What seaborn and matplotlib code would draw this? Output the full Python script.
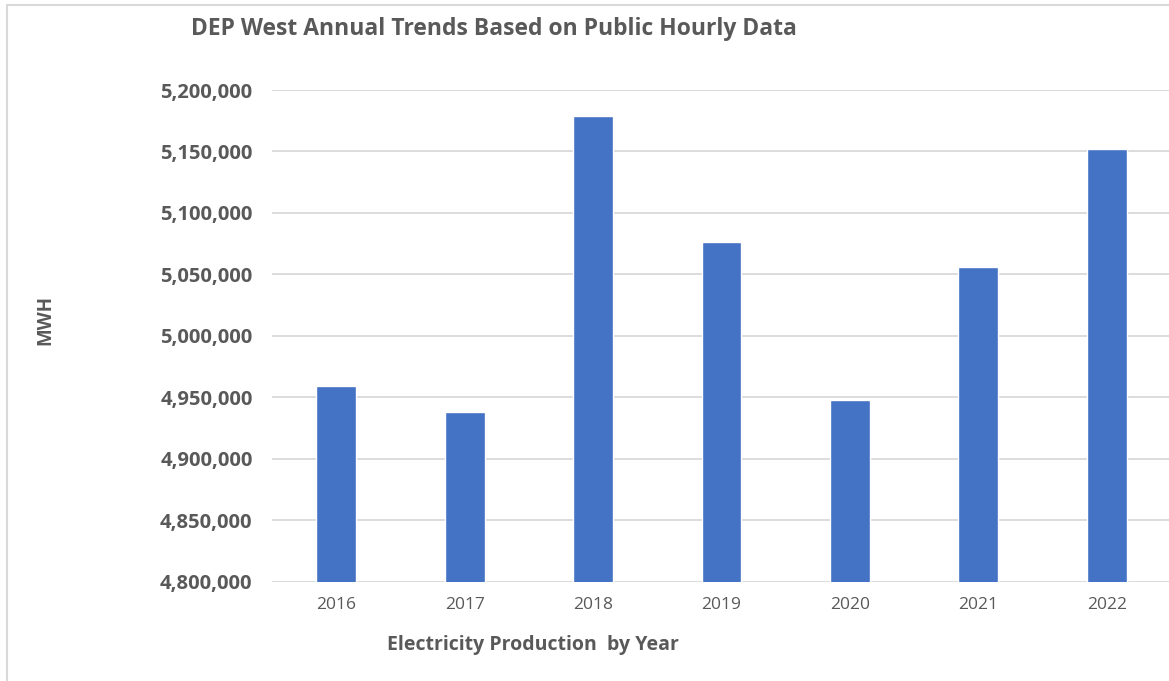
"""Bar chart of DEP West annual electricity production"""

import matplotlib
matplotlib.use('Agg')
import matplotlib.pyplot as plt
import matplotlib.ticker as mticker
from matplotlib.patches import Rectangle
import seaborn as sns
import pandas as pd

# Values
years = ['2016', '2017', '2018', '2019', '2020', '2021', '2022']
mwh = [4959000, 4937800, 5179100, 5076600, 4948100, 5056000, 5152000]
y_ticks = [4800000, 4850000, 4900000, 4950000, 5000000, 5050000, 5100000, 5150000, 5200000]

BAR_COLOR = '#4472C4'
TEXT_COLOR = '#595959'
GRID_COLOR = '#D9D9D9'

sns.set_style('white')
plt.rcParams['font.family'] = ['Open Sans', 'DejaVu Sans']

df = pd.DataFrame({'year': years, 'mwh': mwh})

fig = plt.figure(figsize=(11.69, 6.81), dpi=100)
ax = fig.add_axes([0.2327, 0.1458, 0.769, 0.722])

sns.barplot(data=df, x='year', y='mwh', color=BAR_COLOR, width=0.31,
            saturation=1, ax=ax, zorder=3)

ax.set_ylim(y_ticks[0], y_ticks[-1])
ax.set_xlim(-0.5, len(years) - 0.5)
ax.set_yticks(y_ticks)
ax.yaxis.set_major_formatter(mticker.FuncFormatter(lambda v, p: f'{int(v):,}'))
ax.yaxis.grid(True, color=GRID_COLOR, linewidth=1.3, zorder=0)
ax.xaxis.grid(False)
for spine in ax.spines.values():
    spine.set_visible(False)
ax.tick_params(axis='both', length=0)
ax.tick_params(axis='y', pad=14, labelsize=14.5, labelcolor=TEXT_COLOR)
ax.tick_params(axis='x', pad=11, labelsize=12.5, labelcolor=TEXT_COLOR)
for lbl in ax.get_yticklabels():
    lbl.set_fontweight('bold')

ax.set_xlabel('')
ax.set_ylabel('')
fig.text(533 / 1169, 1 - 645 / 681, 'Electricity Production  by Year', ha='center', va='center',
         fontsize=14, fontweight='bold', color=TEXT_COLOR)
fig.text(45 / 1169, 1 - 320 / 681, 'MWH', ha='center', va='center', rotation=90,
         fontsize=13.5, fontweight='bold', color=TEXT_COLOR)
fig.text(494 / 1169, 1 - 29 / 681, 'DEP West Annual Trends Based on Public Hourly Data',
         ha='center', va='center', fontsize=16.5, fontweight='bold', color=TEXT_COLOR)

# light frame around the chart area
fig.patches.append(Rectangle((7 / 1169, -0.1), 1.2, 1 - 5 / 681 + 0.1,
                             transform=fig.transFigure, fill=False,
                             edgecolor=GRID_COLOR, linewidth=1.5))

fig.savefig('out.png', dpi=100)
